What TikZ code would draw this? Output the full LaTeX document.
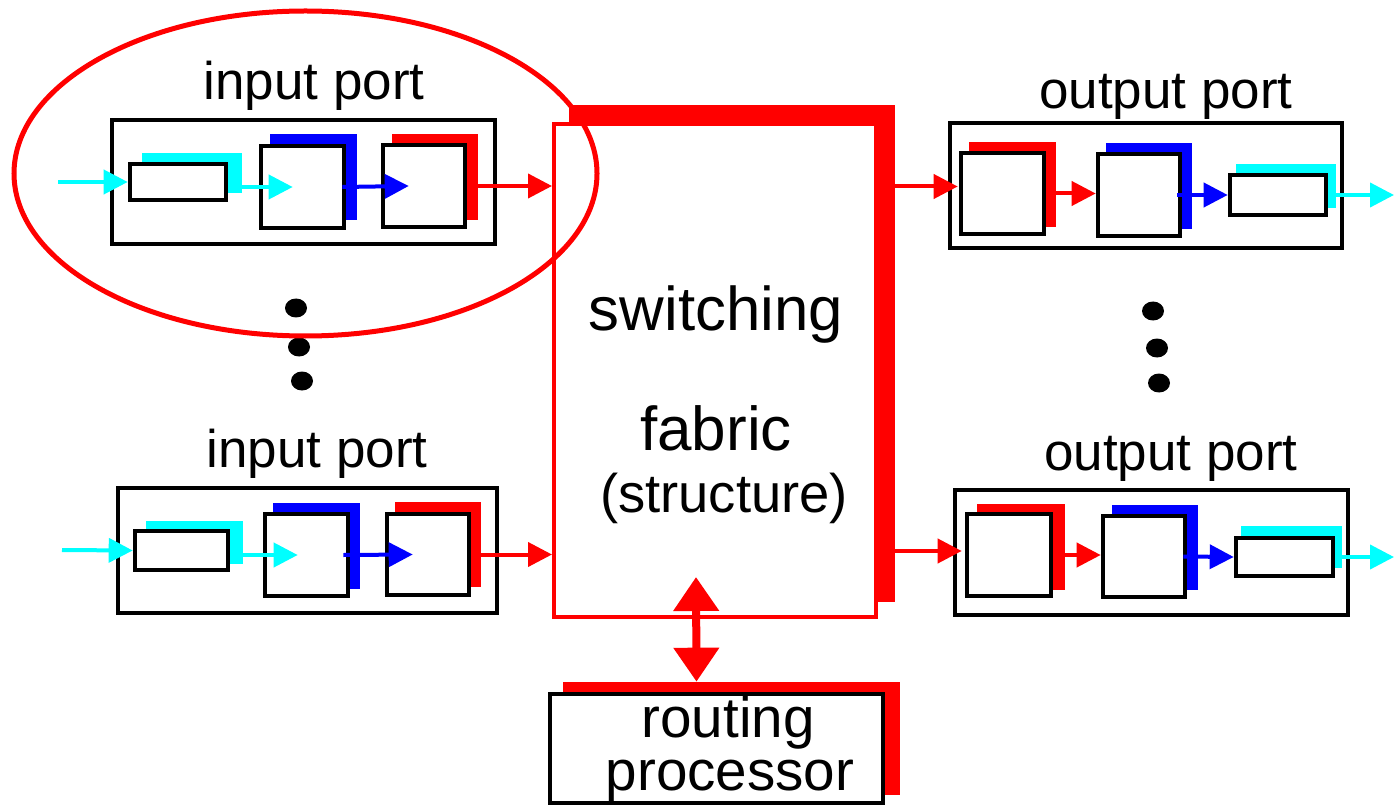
\documentclass[tikz,border=0pt]{standalone}
\usepackage{fontspec}
\setmainfont{Liberation Sans}
\usetikzlibrary{arrows.meta,calc,shadows,shapes.geometric}
\definecolor{cy}{RGB}{0,255,255}
\definecolor{rd}{RGB}{255,0,0}
\definecolor{bl}{RGB}{0,0,255}
\tikzset{
  box/.style={rectangle, draw=black, line width=2.3pt, fill=white, inner sep=0pt},
  shbox/.style n args={3}{box, general shadow={fill=#1, draw=#1, line width=2.3pt, shadow xshift=#2, shadow yshift=#3}},
  arr/.style={line width=2pt, -{Triangle[length=12pt,width=12pt]}},
  dbl/.style={draw=rd, line width=4pt, {Triangle[length=17pt,width=22pt]}-{Triangle[length=17pt,width=22pt]}},
  lbl/.style={inner sep=0pt, anchor=base, text=black},
  dot/.style={ellipse, fill=black, inner sep=0pt, minimum width=11pt, minimum height=9.5pt},
}
\begin{document}
\begin{tikzpicture}[x=0.5pt, y=-0.5pt]
\useasboundingbox (0,0) rectangle (1395,807);
\fill[white] (0,0) rectangle (1395,807);

% outer port boxes
\node[box, minimum width=191.5pt, minimum height=62pt] (ip1) at (303.5,182) {};
\node[box, minimum width=189.5pt, minimum height=62.5pt] (ip2) at (307.5,550.5) {};
\node[box, minimum width=196pt, minimum height=62.5pt] (op1) at (1146,185.5) {};
\node[box, minimum width=196.5pt, minimum height=62.5pt] (op2) at (1151.5,552.5) {};

% input port 1 internals
\node[shbox={cy}{7pt}{4.5pt}, minimum width=48pt, minimum height=18pt] (q1) at (178,182) {};
\node[shbox={bl}{5.5pt}{5pt}, minimum width=41.5pt, minimum height=41pt] (s1a) at (302.5,187) {};
\node[shbox={rd}{5.5pt}{4.5pt}, minimum width=41pt, minimum height=41pt] (s1b) at (424,186) {};

% input port 2 internals
\node[shbox={cy}{6.5pt}{4pt}, minimum width=46.5pt, minimum height=19.5pt] (q2) at (181.5,550.5) {};
\node[shbox={bl}{5pt}{4.5pt}, minimum width=41.5pt, minimum height=41pt] (s2a) at (306.5,555) {};
\node[shbox={rd}{5pt}{5pt}, minimum width=41pt, minimum height=40.5pt] (s2b) at (428,554.5) {};

% output port 1 internals
\node[shbox={rd}{5pt}{4.5pt}, minimum width=41.5pt, minimum height=40.5pt] (a1) at (1002.5,193.5) {};
\node[shbox={bl}{5pt}{4.5pt}, minimum width=41pt, minimum height=41pt] (b1) at (1139,195) {};
\node[shbox={cy}{4pt}{4.5pt}, minimum width=48pt, minimum height=20pt] (c1) at (1278,195) {};

% output port 2 internals
\node[shbox={rd}{6pt}{4pt}, minimum width=42pt, minimum height=41pt] (a2) at (1009,555) {};
\node[shbox={bl}{5.5pt}{4.5pt}, minimum width=41pt, minimum height=40.5pt] (b2) at (1144,556.5) {};
\node[shbox={cy}{3.5pt}{5pt}, minimum width=48.5pt, minimum height=19pt] (c2) at (1284.5,557) {};

% switching fabric
\node[shbox={rd}{8.5pt}{8.5pt}, draw=rd, line width=2pt, minimum width=161pt, minimum height=246.5pt] (fab) at (715,370.5) {};

% routing processor
\node[shbox={rd}{7.5pt}{5pt}, minimum width=166.5pt, minimum height=54.5pt] (rp) at (716.5,748.5) {};

% labels
\node[lbl, font=\fontsize{26.5}{30}\selectfont] (tip1) at (314,100) {input port};
\node[lbl, font=\fontsize{26.5}{30}\selectfont] (tip2) at (317,467) {input port};
\node[lbl, font=\fontsize{26.5}{30}\selectfont] (top1) at (1166,109) {output port};
\node[lbl, font=\fontsize{26.5}{30}\selectfont] (top2) at (1171,470) {output port};
\node[lbl, font=\fontsize{30.9}{34}\selectfont] (sw) at (716,330) {switching};
\node[lbl, font=\fontsize{31}{34}\selectfont] (fb) at (716,450) {fabric};
\node[lbl, font=\fontsize{27.2}{30}\selectfont] (st) at (724,512) {(structure)};
\node[lbl, font=\fontsize{28.3}{31}\selectfont] (r1) at (728,737) {routing};
\node[lbl, font=\fontsize{28.3}{31}\selectfont] (r2) at (730,790) {processor};

% coordinates for free ends
\coordinate (in1) at (58,182);
\coordinate (in2) at (62,550);
\coordinate (out1) at (1394,194);
\coordinate (out2) at (1394,553);
\coordinate (a1in) at ($(a1.west)+(-1,-7)$);
\coordinate (a2in) at ($(a2.west)+(-3,-4)$);

% input port 1 arrows
\draw[arr, cy] (in1) -- (q1.west);
\draw[arr, cy] (q1.east |- s1a.west) -- ($(s1a.west)+(34,0)$);
\draw[arr, bl] ($(s1a.east)+(-4,0)$) -- ($(s1b.west)+(28,0)$);
\draw[arr, rd] (s1b.east) -- (s1b.east -| fab.west);

% input port 2 arrows
\draw[arr, cy] (in2) -- (q2.west);
\draw[arr, cy] (q2.east |- s2a.west) -- ($(s2a.west)+(35,0)$);
\draw[arr, bl] ($(s2a.east)+(-7,0)$) -- ($(s2b.west)+(28,0)$);
\draw[arr, rd] (s2b.east) -- (s2b.east -| fab.west);

% output port 1 arrows
\draw[arr, rd] ($(fab.east |- a1in)+(16,0)$) -- (a1in);
\draw[arr, rd] (a1.east) -- (a1.east -| b1.west);
\draw[arr, bl] ($(b1.east)+(-5,0)$) -- (c1.west);
\draw[arr, cy] (c1.east) -- (c1.east -| out1);

% output port 2 arrows
\draw[arr, rd] ($(fab.east |- a2in)+(16,0)$) -- (a2in);
\draw[arr, rd] (a2.east) -- (a2.east -| b2.west);
\draw[arr, bl] ($(b2.east)+(-4,0)$) -- (c2.west);
\draw[arr, cy] (c2.east) -- (c2.east -| out2);

% fabric <-> routing processor
\draw[dbl] ($(fab.south)+(-19,-42)$) -- ($(rp.north)+(-20,-10)$);

% dots
\node[dot] (dl1) at (296,308) {};
\node[dot] (dl2) at (299,347) {};
\node[dot] (dl3) at (302,381) {};
\node[dot] (dr1) at (1153,311) {};
\node[dot] (dr2) at (1157,348) {};
\node[dot] (dr3) at (1159,383) {};

% highlight ellipse
\node[ellipse, draw=rd, line width=2.5pt, inner sep=0pt, minimum width=291.5pt, minimum height=162.5pt] (sel) at (305.5,173.5) {};
\end{tikzpicture}
\end{document}
